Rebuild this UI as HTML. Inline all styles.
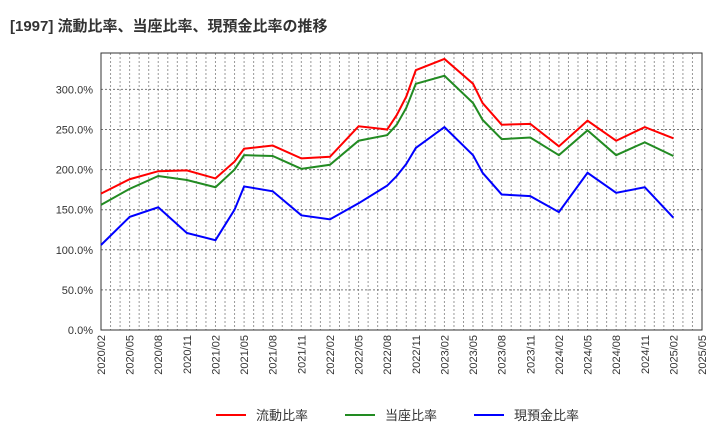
<!DOCTYPE html>
<html><head><meta charset="utf-8">
<style>
body{margin:0;background:#fff;font-family:"Liberation Sans","Noto Sans CJK JP",sans-serif;}
svg text{font-family:"Liberation Sans","Noto Sans CJK JP",sans-serif;}
</style></head>
<body>
<svg id="chart" width="720" height="440">
<text x="10" y="31" font-size="15" font-weight="bold" fill="#333">[1997]  流動比率、当座比率、現預金比率の推移</text>
<g id="grid"></g>
<g id="axes"></g>
<g id="series"></g>
<g id="legend"></g>
</svg>
<script>
const months = [0,3,6,9,12,14,15,18,21,24,27,30,31,32,33,36,39,40,42,45,48,51,54,57,60];
const currentRatio = [170,188,198,199,189,210,226,230,214,216,254,250,268,291,324,338,307,283,256,257,229,261,236,253,239];
const quickRatio   = [156,176,192,187,178,200,218,217,201,206,236,243,256,277,307,317,283,262,238,240,218,249,218,234,217];
const cashRatio    = [106,141,153,121,112,150,179,173,143,138,158,180,192,207,227,253,218,196,169,167,147,196,171,178,140];
const yTicks = [0,50,100,150,200,250,300];
const yTickLabels = ["0.0%","50.0%","100.0%","150.0%","200.0%","250.0%","300.0%"];
const xTickLabels = ["2020/02","2020/05","2020/08","2020/11","2021/02","2021/05","2021/08","2021/11","2022/02","2022/05","2022/08","2022/11","2023/02","2023/05","2023/08","2023/11","2024/02","2024/05","2024/08","2024/11","2025/02","2025/05"];
const seriesNames = ["流動比率","当座比率","現預金比率"];

const NS="http://www.w3.org/2000/svg";
const L=101,R=702,T=53,B=330,maxM=63,maxY=345.4;
const xs=m=>L+(R-L)*m/maxM;
const ys=v=>B-(B-T)*v/maxY;
function mk(tag,attrs,parent){const e=document.createElementNS(NS,tag);for(const k in attrs)e.setAttribute(k,attrs[k]);parent.appendChild(e);return e;}
const grid=document.getElementById('grid'),axes=document.getElementById('axes'),ser=document.getElementById('series'),leg=document.getElementById('legend');
for(let m=0;m<=maxM;m++){const g=mk('line',{x1:xs(m),x2:xs(m),y1:T,y2:B,stroke:'#999','stroke-dasharray':'2,2','stroke-width':1},grid);

}
yTicks.forEach((v,i)=>{const g=mk('line',{x1:L,x2:R,y1:ys(v),y2:ys(v),stroke:'#777','stroke-dasharray':'2,2','stroke-width':1},grid);


const t=mk('text',{x:93,y:ys(v)+4,'text-anchor':'end','font-size':11,fill:'#333'},axes);t.textContent=yTickLabels[i];

});
xTickLabels.forEach((s,i)=>{const x=xs(i*3);const t=mk('text',{x:0,y:0,'text-anchor':'end','font-size':11,fill:'#333',transform:`translate(${x+4},335) rotate(-90)`},axes);t.textContent=s;

});
const fr=mk('rect',{x:L,y:T,width:R-L,height:B-T,fill:'none',stroke:'#333','stroke-width':1},axes);


const cols=['#ff0000','#228b22','#0000ff'];
[currentRatio,quickRatio,cashRatio].forEach((d,k)=>{const p=mk('polyline',{points:d.map((v,i)=>xs(months[i])+','+ys(v)).join(' '),fill:'none',stroke:cols[k],'stroke-width':2},ser);


const lx=[216,345,474][k];
const ll=mk('line',{x1:lx,x2:lx+30,y1:415,y2:415,stroke:cols[k],'stroke-width':2},leg);


const lt=mk('text',{x:lx+40,y:420,'font-size':13,fill:'#333'},leg);lt.textContent=seriesNames[k];

});
</script>
</body></html>
